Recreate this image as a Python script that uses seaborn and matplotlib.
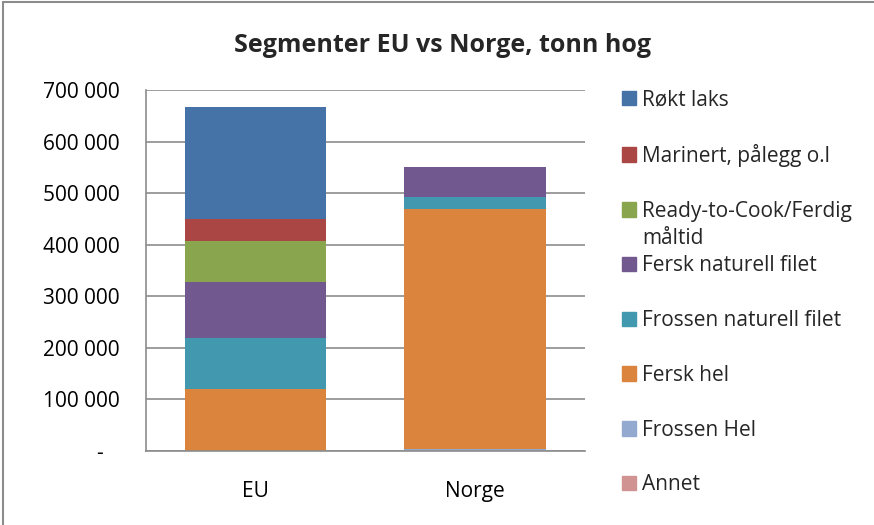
import matplotlib
matplotlib.use('Agg')
import matplotlib.pyplot as plt
import matplotlib.patches as mpatches
from matplotlib.lines import Line2D
from matplotlib.ticker import FuncFormatter, MultipleLocator
import seaborn as sns
import pandas as pd
import numpy as np

# data (tonn hog)
markets = ["EU", "Norge"]
segments = ["Annet", "Frossen Hel", "Fersk hel", "Frossen naturell filet",
            "Fersk naturell filet", "Ready-to-Cook/Ferdig måltid",
            "Marinert, pålegg o.l", "Røkt laks"]
annet = [0, 0]
frossen_hel = [0, 3000]
fersk_hel = [119000, 466000]
frossen_filet = [99000, 23000]
fersk_filet = [110000, 58000]
ready_to_cook = [79000, 0]
marinert = [43000, 0]
rokt_laks = [217000, 0]
colors = ["#D19392", "#93A9CF", "#DB843D", "#4198AF",
          "#71588F", "#89A54E", "#AA4643", "#4572A7"]

series = [annet, frossen_hel, fersk_hel, frossen_filet,
          fersk_filet, ready_to_cook, marinert, rokt_laks]

sns.set_theme(style="white")
plt.rcParams['font.family'] = ['Open Sans', 'DejaVu Sans']

fig = plt.figure(figsize=(8.74, 5.25), dpi=100)
ax = fig.add_axes([0.167, 0.1415, 0.502, 0.6871])

# stacked bars: draw cumulative totals from the top segment down
cum = np.cumsum(np.array(series), axis=0)
for i in range(len(segments) - 1, -1, -1):
    df = pd.DataFrame({"marked": markets, "verdi": cum[i]})
    sns.barplot(data=df, x="marked", y="verdi", color=colors[i],
                saturation=1, width=0.645, linewidth=0, ax=ax)

ax.set_ylim(0, 700000)
ax.set_xlim(-0.5, 1.5)
ax.yaxis.set_major_locator(MultipleLocator(100000))
ax.yaxis.set_major_formatter(FuncFormatter(
    lambda v, p: "-   " if v == 0 else f"{v:,.0f}".replace(",", " ")))
ax.set_xlabel("")
ax.set_ylabel("")
ax.grid(axis="y", color="#8C8C8C", linewidth=1.2)
ax.set_axisbelow(True)
for s in ["top", "right"]:
    ax.spines[s].set_visible(False)
for s in ["left", "bottom"]:
    ax.spines[s].set_color("#8C8C8C")
    ax.spines[s].set_linewidth(1.2)
ax.tick_params(axis="y", labelsize=15, length=0, pad=19, colors="black")
ax.tick_params(axis="x", labelsize=15, length=0, pad=22, colors="black")

fig.suptitle("Segmenter EU vs Norge, tonn hog", x=0.506, y=0.914,
             va="center", fontsize=18, fontweight="bold")

# legend in Excel order (top segment first)
labels = ["Røkt laks", "Marinert, pålegg o.l", "Ready-to-Cook/Ferdig",
          "Fersk naturell filet", "Frossen naturell filet", "Fersk hel",
          "Frossen Hel", "Annet"]
handles = [mpatches.Patch(color=c) for c in colors[::-1]]
leg = fig.legend(handles, labels, loc="upper left",
                 bbox_to_anchor=(0.6996, 0.85), frameon=False, fontsize=15,
                 handlelength=0.68, handleheight=0.68, handletextpad=0.3,
                 labelspacing=1.62, borderpad=0)

fig.canvas.draw()
bb = leg.get_texts()[2].get_window_extent()
x0, y0 = fig.transFigure.inverted().transform((bb.x0, bb.y0 - 6))
fig.text(x0, y0, "måltid", fontsize=15, va="top", ha="left")

# outer chart border (top and left edges only visible)
fig.add_artist(Line2D([2.5 / 874, 2.5 / 874], [0, 1 - 2 / 525],
                      transform=fig.transFigure, color="#8C8C8C", linewidth=1.5))
fig.add_artist(Line2D([2.5 / 874, 1], [1 - 2 / 525, 1 - 2 / 525],
                      transform=fig.transFigure, color="#8C8C8C", linewidth=1.5))

fig.savefig("out.png", dpi=100)
